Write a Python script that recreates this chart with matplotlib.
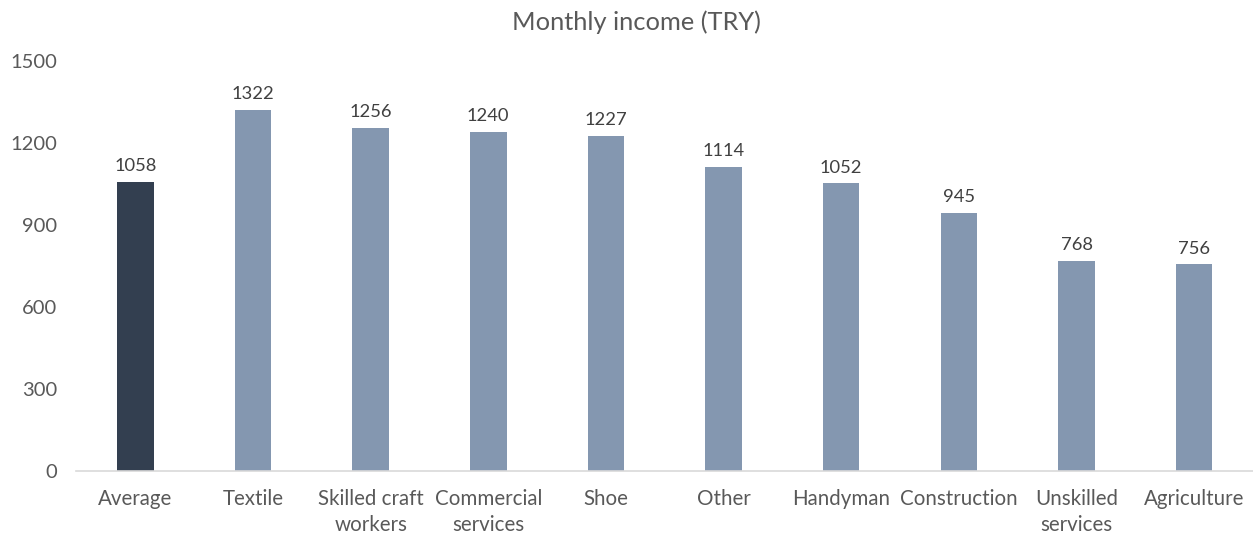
import matplotlib
matplotlib.use("Agg")
from matplotlib import pyplot as plt

categories = ["Average", "Textile", "Skilled craft\nworkers", "Commercial\nservices", "Shoe",
              "Other", "Handyman", "Construction", "Unskilled\nservices", "Agriculture"]
income = [1058, 1322, 1256, 1240, 1227, 1114, 1052, 945, 768, 756]
yticks = [0, 300, 600, 900, 1200, 1500]

plt.rcParams['font.family'] = ['Lato', 'DejaVu Sans']

fig = plt.figure(figsize=(12.53, 5.37), dpi=100)
ax = fig.add_axes([76.5 / 1253, 66 / 537, (1253 - 76.5) / 1253, 410 / 537])

colors = ['#333F50'] + ['#8497B0'] * (len(income) - 1)
x = list(range(len(categories)))
bars = ax.bar(x, income, width=0.31, color=colors)

for b, v in zip(bars, income):
    ax.annotate(str(v), (b.get_x() + b.get_width() / 2, v), xytext=(0, 5.5),
                textcoords='offset points', ha='center', va='bottom',
                fontsize=13.2, color='#404040')

ax.set_xlim(-0.5, len(categories) - 0.5)
ax.set_ylim(0, 1500)
ax.set_yticks(yticks)
ax.set_xticks(x)
ax.set_xticklabels(categories, linespacing=1.4)
ax.tick_params(axis='both', length=0, colors='#595959', labelsize=14.8)
ax.tick_params(axis='y', labelsize=14.5, pad=14)
ax.tick_params(axis='x', pad=13)

for s in ['top', 'right', 'left']:
    ax.spines[s].set_visible(False)
ax.spines['bottom'].set_color('#D9D9D9')
ax.spines['bottom'].set_linewidth(1.2)

fig.text(0.508, 0.958, 'Monthly income (TRY)', ha='center', va='center',
         fontsize=18.3, color='#595959')

fig.savefig('out.png', dpi=100)
